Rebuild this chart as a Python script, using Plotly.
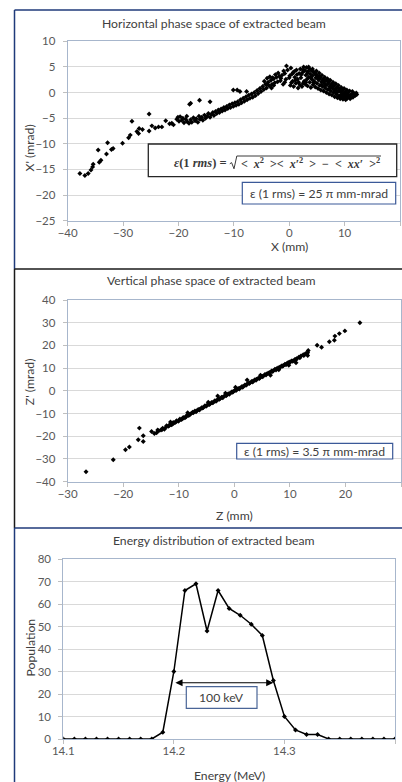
import plotly.graph_objects as go

# ---------------- data ----------------
# Horizontal phase space (X in mm, X' in mrad)
h_x = [-37.8, -36.9, -36.3, -35.8, -35.5, -35.4, -34.5, -34.3, -34.0, -32.8, -33.0, -32.1, -31.8,
       -30.1, -29.0, -28.7, -28.4, -27.5, -27.1, -26.5, -27.2, -25.3, -25.3, -24.8, -24.2, -23.6,
       -23.0, -22.3, -21.6, -21.2, -20.9, -20.1, -19.7, -19.2, -18.5, -18.0, -17.8, -16.2, -14.3,
       -20.3, -19.9, -19.4, -19.0, -18.7, -18.4, -18.1, -17.8, -17.6, -17.3, -17.0, -16.8, -16.5,
       -16.3, -16.1, -15.8, -15.6, -15.3, -15.1, -14.8, -14.6, -14.3, -14.1, -13.8, -13.6, -13.3,
       -13.1, -12.8, -12.6, -12.3, -12.1, -11.8, -11.6, -11.3, -11.1, -10.8, -10.6, -10.3, -10.1,
       -9.8, -9.6, -9.3, -9.1, -8.8, -8.6, -8.3, -8.1, -7.8, -7.6, -7.3, -7.1, -6.8, -6.6, -6.3,
       -6.1, -5.8, -5.6, -5.3, -5.1, -4.8, -4.6, -4.3, -4.1, -3.8, -3.6, -3.3, -3.1, -2.8, -2.6,
       -2.3, -2.1, -1.8, -1.6, -1.3, -1.1, -0.8, -0.6, -0.5, -0.3, 0.0, 0.2,
       -10.1, -9.4, -8.9, -7.7,
       0.3, 0.5, 0.6, 0.8, 0.9, 1.0, 1.2, 1.3, 1.5, 1.6, 1.8, 1.9,
       2.0, 2.1, 2.3, 2.4, 2.6, 2.7, 2.8, 2.9, 3.0, 3.1, 3.2, 3.3,
       3.4, 3.5, 3.6, 3.7, 3.8, 3.9, 4.0, 4.1, 4.2, 4.3, 4.4, 4.5, 4.6, 4.7, 4.8, 4.9, 5.0,
       5.1, 5.2, 5.3, 5.4, 5.5, 5.6, 5.7, 5.8, 5.9, 6.0, 6.1, 6.2, 6.3, 6.4, 6.5, 6.6, 6.7, 6.8, 6.9, 7.0,
       7.1, 7.2, 7.3, 7.4, 7.5, 7.6, 7.7, 7.8, 7.9, 8.0, 8.1, 8.2, 8.3, 8.4, 8.5, 8.6, 8.7, 8.8, 8.9, 9.0,
       9.1, 9.2, 9.3, 9.4, 9.5, 9.6, 9.7, 9.8, 9.9, 10.0, 10.1, 10.2, 10.3, 10.4, 10.5, 10.6, 10.8,
       10.9, 11.0, 11.2, 11.4, 11.5, 11.7, 11.9, 12.1, 12.2,
       0.1, 0.4, 0.7, 1.1, 1.4, 1.7, 2.2, 2.5, 2.5, 3.0, 3.3, 3.5, 3.9, 4.2, 4.4, 4.8, 5.2, 5.5,
       5.8, 6.2, 6.5, 7.0, 7.4, 7.8, 8.2, 8.6, 9.0, 9.4, 9.8, 10.2, 10.6, 11.1,
       -4.5, -4.0, -3.5, -3.0, -2.5, -2.0, -1.5, -1.0, -0.8, -2.8, -4.0, -3.2]
h_xp = [-15.8, -16.2, -15.8, -15.1, -14.5, -14.0, -11.2, -13.6, -13.2, -9.8, -12.0, -11.1, -10.9,
        -9.9, -8.8, -8.3, -5.6, -7.6, -7.0, -7.2, -8.0, -4.2, -7.5, -6.5, -6.9, -6.7,
        -6.7, -5.5, -6.1, -6.0, -6.3, -4.8, -4.7, -5.0, -4.6, -2.3, -2.1, -1.5, -1.8,
        -5.2, -5.6, -5.4, -5.9, -5.2, -5.7, -6.0, -5.3, -5.8, -4.9, -5.5, -5.1, -5.8,
        -4.6, -5.2, -4.8, -5.4, -4.4, -5.0, -4.6, -4.1, -4.8, -4.3, -3.9, -4.5, -3.7,
        -4.1, -3.4, -3.9, -3.2, -3.6, -2.9, -3.4, -2.7, -3.1, -2.4, -2.9, -2.2, -2.7,
        -2.0, -2.5, -1.8, -2.3, -1.4, -2.0, -1.1, -1.7, -0.8, -1.4, -0.5, -1.1, -0.3, -0.9, 0.0,
        -0.6, 0.4, -0.2, 0.8, 0.2, 1.2, 0.6, 1.6, 0.9, 2.0, 1.3, 2.4, 1.6, 2.7, 1.9,
        3.0, 2.1, 3.2, 2.3, 3.4, 1.6, 3.7, 2.6, 5.2, 4.4, 2.9, 1.4,
        0.5, 0.5, 0.2, 0.2,
        4.8, 3.6, 2.2, 1.2, 4.1, 3.0, 1.8, 4.4, 2.6, 0.9, 3.7, 1.5,
        4.6, 2.9, 1.2, 3.9, 5.0, 2.2, 4.3, 1.6, 3.4, 4.9, 2.6, 1.3,
        4.1, 3.0, 4.7, 2.0, 3.6, 1.0, 4.3, 2.6, 3.3, 1.5, 4.0, 2.2, 3.7, 1.1, 2.9, 4.2, 1.8,
        3.3, 0.8, 2.5, 3.8, 1.4, 2.9, 0.5, 2.1, 3.4, 1.2, 2.6, 0.3, 1.8, 3.0, 0.9, 2.3, 0.0, 1.5, 2.7, 0.6,
        1.9, -0.3, 1.2, 2.4, 0.3, 1.6, -0.5, 0.9, 2.0, 0.0, 1.3, -0.8, 0.6, 1.7, -0.3, 1.0, -1.0, 0.3, 1.4, -0.6,
        0.7, -1.2, 0.1, 1.0, -0.8, 0.4, -1.3, -0.2, 0.8, -1.0, 0.1, -1.4, -0.4, 0.5, -1.1, -0.1, -0.8,
        0.3, -1.2, -0.4, 0.2, -0.9, -0.2, -0.6, -0.1, -0.4,
        3.3, 1.9, 3.9, 2.4, 3.5, 2.0, 3.5, 1.8, 4.4, 2.0, 3.8, 5.0, 2.9, 4.6, 1.9, 3.5, 2.7, 3.2,
        1.5, 2.2, 1.4, 2.2, 0.9, 1.4, 0.4, 0.0, 0.3, -0.5, -0.6, -0.7, -0.5, -0.5,
        2.2, 2.8, 3.1, 2.9, 3.5, 3.8, 2.8, 4.2, 2.0, 1.4, 1.6, 0.9]

# Vertical phase space (Z in mm, Z' in mrad)
v_z = [-26.7, -21.8, -19.6, -18.9, -17.3, -17.1, -16.4, -16.4, -14.9, -14.4, -14.0, -13.6, -13.2,
       -12.9, -12.6, -12.2, -11.9, -11.6, -11.3, -11.0, -10.7, -10.4, -10.1, -9.8, -9.5, -9.2, -8.9,
       -8.6, -8.3, -8.0, -7.7, -7.4, -7.1, -6.8, -6.5, -6.2, -5.9, -5.6, -5.3, -5.0, -4.7, -4.4, -4.1,
       -3.8, -3.5, -3.2, -2.9, -2.6, -2.3, -2.0, -1.7, -1.4, -1.1, -0.8, -0.5, -0.2, 0.1, 0.4, 0.7,
       1.0, 1.3, 1.6, 1.9, 2.2, 2.5, 2.8, 3.1, 3.4, 3.7, 4.0, 4.3, 4.6, 4.9, 5.2, 5.5, 5.8, 6.1, 6.4,
       6.7, 7.0, 7.3, 7.6, 7.9, 8.2, 8.5, 8.8, 9.1, 9.4, 9.7, 10.0, 10.3, 10.6, 10.9, 11.2, 11.6,
       12.0, 12.4, 12.8, 13.2, 13.3, 13.2, 14.9, 15.7, 17.1, 18.0, 18.1, 18.9, 19.9, 22.6,
       -13.8, -13.0, -12.4, -11.7, -11.1, -10.5, -9.9, -9.3, -8.7, -8.1, -7.5, -6.9, -6.3, -5.7,
       -5.1, -4.5, -3.9, -3.3, -2.7, -2.1, -1.5, -0.9, -0.3, 0.3, 0.9, 1.5, 2.1, 2.7, 3.3, 3.9, 4.5,
       5.1, 5.7, 6.3, 6.9, 7.5, 8.1, 8.7, 9.3, 9.9, 10.5, 11.1, 11.8, 12.5, 13.1,
       2.3, -1.6, -4.7, -8.4, -11.5, 6.5, 9.8, 11.1, 0.2, -3.0, 4.7, 8.0]
v_zp = [-35.6, -30.3, -25.9, -24.7, -21.5, -16.4, -19.8, -22.3, -17.9, -18.8, -18.5, -17.6, -17.2,
        -16.5, -16.9, -15.4, -15.6, -14.8, -14.9, -13.9, -14.1, -13.2, -13.4, -12.4, -12.6, -11.7, -11.9,
        -11.0, -10.9, -10.4, -9.8, -9.7, -8.9, -8.9, -8.2, -8.1, -7.4, -7.3, -6.6, -6.6, -5.9, -5.8, -5.1,
        -5.0, -4.3, -4.3, -3.6, -3.5, -2.8, -2.7, -2.0, -1.9, -1.3, -1.1, -0.5, -0.3, 0.3, 0.5, 1.0,
        1.2, 1.8, 2.0, 2.6, 2.8, 3.4, 3.5, 4.1, 4.3, 4.9, 5.1, 5.6, 5.8, 6.4, 6.6, 7.2, 7.4, 7.9, 8.1,
        8.7, 8.9, 9.5, 9.7, 10.2, 10.4, 11.0, 11.2, 11.7, 12.0, 12.5, 12.7, 13.2, 13.3, 13.8, 14.2, 14.8,
        15.4, 15.9, 16.4, 17.0, 17.8, 15.6, 20.1, 19.2, 21.6, 22.3, 24.1, 25.2, 26.4, 30.0,
        -17.2, -17.0, -16.2, -15.3, -14.6, -13.6, -13.0, -12.2, -11.4, -10.6, -9.4, -9.2, -8.4, -7.6,
        -6.8, -6.0, -5.3, -4.6, -3.7, -3.0, -2.2, -1.5, -0.6, 0.1, 0.8, 1.6, 2.4, 3.2, 3.9, 4.7, 5.4,
        6.2, 7.0, 7.7, 8.5, 9.2, 10.0, 10.8, 11.5, 12.3, 13.0, 13.7, 14.6, 15.5, 16.3,
        4.8, -1.0, -5.0, -9.6, -13.7, 6.9, 11.3, 12.4, 1.6, -2.3, 6.9, 9.3]

# Energy distribution
energy = [14.10, 14.11, 14.12, 14.13, 14.14, 14.15, 14.16, 14.17, 14.18, 14.19, 14.20, 14.21,
          14.22, 14.23, 14.24, 14.25, 14.26, 14.27, 14.28, 14.29, 14.30, 14.31, 14.32, 14.33,
          14.34, 14.35, 14.36, 14.37, 14.38, 14.39, 14.40]
population = [0, 0, 0, 0, 0, 0, 0, 0, 0, 3, 30, 66, 69, 48, 66, 58, 55, 51, 46, 26, 10, 4, 2, 2,
              0, 0, 0, 0, 0, 0, 0]
fwhm_left, fwhm_right, fwhm_level = 14.20, 14.29, 25

titles = ["Horizontal phase space of extracted beam",
          "Vertical phase space of extracted beam",
          "Energy distribution of extracted beam"]
x_titles = ["X (mm)", "Z (mm)", "Energy (MeV)"]
y_titles = ["X' (mrad)", "Z' (mrad)", "Population"]
h_emit_label = "\u03b5 (1 rms) = 25 \u03c0 mm-mrad"
v_emit_label = "\u03b5 (1 rms) = 3.5 \u03c0 mm-mrad"
width_label = "100 keV"
SP = "\u2002"
formula_lhs = "<b><i>\u03b5</i>(1 <i>rms</i>) =</b>"
formula_rhs = (f"<b>&lt;{SP}<i>x</i><sup>2</sup>{SP}&gt;&lt;{SP}<i>x</i>\u2032<sup>2</sup>{SP}&gt;"
               f"{SP}\u2212{SP}&lt;{SP}<i>xx</i>\u2032{SP}&gt;<sup>2</sup></b>")

# ---------------- layout helpers ----------------
W, H = 402, 782
def px(x):
    return x / W
def py(y):
    return 1 - y / H

FONT = "Lato, Carlito, Calibri, sans-serif"
SERIF = "Liberation Serif, DejaVu Serif, serif"
TICK_FONT = dict(family=FONT, size=11.5, color="#595959")
TXT = "#404040"
FRAME = "#A7B6CC"
NAVY = "#1F3A7A"

fig = go.Figure()

mk = dict(symbol="diamond", size=3.8, color="black", line=dict(width=0))
fig.add_trace(go.Scatter(x=h_x, y=h_xp, mode="markers", marker=mk, xaxis="x", yaxis="y",
                         showlegend=False))
fig.add_trace(go.Scatter(x=v_z, y=v_zp, mode="markers", marker=mk, xaxis="x2", yaxis="y2",
                         showlegend=False))
fig.add_trace(go.Scatter(x=energy, y=population, mode="lines+markers",
                         line=dict(color="black", width=1.5),
                         marker=dict(symbol="diamond", size=3.8, color="black"),
                         xaxis="x3", yaxis="y3", showlegend=False))

def xax(domain, rng, dtick, anchor, fmt=None):
    d = dict(domain=domain, range=rng, dtick=dtick, tick0=rng[0], anchor=anchor,
             showline=True, linecolor=FRAME, linewidth=1, mirror=True,
             ticks="outside", ticklen=4, tickcolor="#BFBFBF", tickfont=TICK_FONT,
             ticklabelstandoff=-3, automargin=False,
             showgrid=False, zeroline=False, fixedrange=True)
    if fmt:
        d["tickformat"] = fmt
    return d

def yax(domain, rng, dtick, anchor):
    return dict(domain=domain, range=rng, dtick=dtick, tick0=rng[0], anchor=anchor,
                showline=True, linecolor=FRAME, linewidth=1, mirror=True,
                ticks="outside", ticklen=4, tickcolor="#BFBFBF", tickfont=TICK_FONT,
                ticklabelstandoff=5, automargin=False,
                showgrid=True, gridcolor="#D9D9D9", gridwidth=1, zeroline=False,
                fixedrange=True)

layout = dict(
    width=W, height=H, autosize=False,
    margin=dict(l=0, r=0, t=0, b=0, pad=0, autoexpand=False),
    paper_bgcolor="white", plot_bgcolor="white",
    font=dict(family=FONT, color=TXT),
    xaxis=xax([px(67.7), px(400)], [-40, 20], 10, "y"),
    yaxis=yax([py(220.7), py(41.3)], [-25, 10], 5, "x"),
    xaxis2=xax([px(67.7), px(401)], [-30, 30], 10, "y2"),
    yaxis2=yax([py(481.7), py(300)], [-40, 40], 10, "x2"),
    xaxis3=xax([px(63.3), px(395)], [14.1, 14.4], 0.1, "y3", ".1f"),
    yaxis3=yax([py(739), py(559)], [0, 80], 10, "x3"),
)
fig.update_layout(**layout)

ann = []
def text(x, y, s, size=12.2, angle=0, family=FONT, color=TXT, anchor="center"):
    ann.append(dict(x=px(x), y=py(y), xref="paper", yref="paper", text=s, showarrow=False,
                    xanchor=anchor, yanchor="middle", textangle=angle,
                    font=dict(family=family, size=size, color=color)))

text(213.5, 24, titles[0])
text(211, 280.7, titles[1])
text(213.7, 540.7, titles[2])
text(289, 247, x_titles[0])
text(234, 515, x_titles[1])
text(230, 775, x_titles[2])
text(28.5, 148, y_titles[0], angle=-90)
text(29.5, 381.7, y_titles[1], angle=-90)
text(29.5, 648, y_titles[2], angle=-90)

shapes = []
def rect(x0, y0, x1, y1, color, w=1.2):
    shapes.append(dict(type="rect", xref="paper", yref="paper", x0=px(x0), x1=px(x1),
                       y0=py(y1), y1=py(y0), line=dict(color=color, width=w),
                       fillcolor="white", layer="above"))
def line(x0, y0, x1, y1, color, w=1.5):
    shapes.append(dict(type="line", xref="paper", yref="paper", x0=px(x0), x1=px(x1),
                       y0=py(y0), y1=py(y1), line=dict(color=color, width=w), layer="above"))
def path(pts, color, w=1.0):
    d = "M " + " L ".join(f"{px(a):.5f},{py(b):.5f}" for a, b in pts)
    shapes.append(dict(type="path", xref="paper", yref="paper", path=d,
                       line=dict(color=color, width=w), layer="above"))

# formula box
rect(148.3, 144, 396.7, 176.7, "#262626", 1.3)
text(228.5, 163.5, formula_lhs, size=12.5, family=SERIF, color="#3A3A3A", anchor="right")
text(238.5, 163.5, formula_rhs, size=12, family=SERIF, color="#3A3A3A", anchor="left")
# radical sign with overline
path([(229.8, 163.8), (231.6, 162.6), (234.0, 168.8), (236.8, 156.0), (381, 156.0)], "#3A3A3A", 1.0)

rect(242.3, 182.3, 395.7, 204, "#3B5998", 1.2)
text(319, 193.2, h_emit_label, size=12.2)
rect(236.7, 443.3, 392.7, 459, "#3B5998", 1.2)
text(314.7, 451.2, v_emit_label, size=12.2)
rect(186.3, 686.7, 257, 708.3, "#4A6597", 1.2)
text(221.7, 697.6, width_label, size=12.2)

# panel frames
line(14.5, 10, 402, 10, NAVY)
line(14.5, 10, 14.5, 269, NAVY)
line(14.5, 269, 402, 269, "#1A1A1A")
line(14.5, 269, 14.5, 528, "#1A1A1A")
line(14.5, 528, 402, 528, NAVY)
line(14.5, 528, 14.5, 782, NAVY)

# FWHM double arrow
ann.append(dict(x=fwhm_right, y=fwhm_level, ax=fwhm_left, ay=fwhm_level, xref="x3", yref="y3",
                axref="x3", ayref="y3", text="", showarrow=True, arrowside="end+start",
                arrowhead=2, arrowsize=1.2, arrowwidth=1.2, arrowcolor="black"))

fig.update_layout(annotations=ann, shapes=shapes)
fig.write_html("out.html")
